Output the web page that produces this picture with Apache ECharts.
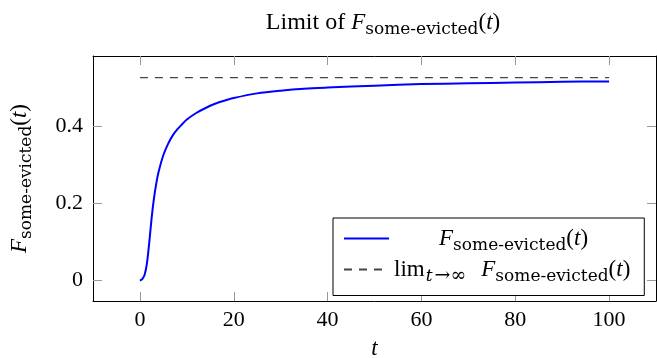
<!DOCTYPE html>
<html><head><meta charset="utf-8">
<script src="https://cdn.jsdelivr.net/npm/echarts@6/dist/echarts.min.js"></script>
<style>html,body{margin:0;padding:0;background:#fff}#c{width:657px;height:358px}</style>
</head><body><div id="c"></div>
<script>
// data
const tValues = [0, 0.5, 1, 1.5, 2, 2.5, 3, 3.5, 4, 5, 6, 7, 8, 9, 10, 12, 14, 16, 18, 20, 25, 30, 35, 40, 50, 60, 70, 80, 90, 100];
const fValues = [0, 0.004, 0.015, 0.045, 0.1, 0.163, 0.214, 0.253, 0.283, 0.326, 0.355, 0.377, 0.393, 0.406, 0.418, 0.435, 0.448, 0.459, 0.467, 0.474, 0.486, 0.493, 0.498, 0.501, 0.506, 0.51, 0.512, 0.514, 0.516, 0.517];
const limitT = [0, 100];
const limitV = [0.527, 0.527];
const xTicks = [0, 20, 40, 60, 80, 100];
const yTicks = [0, 0.2, 0.4];

const FONT = 'Liberation Serif';
const SUBFONT = 'DejaVu Serif';
const FS = 23, SFS = 17, TFS = 22;
const base = {color: '#000', fontWeight: 'normal', verticalAlign: 'middle'};
const rich = {
  it: Object.assign({}, base, {fontFamily: FONT, fontStyle: 'italic', fontSize: FS}),
  rm: Object.assign({}, base, {fontFamily: FONT, fontSize: FS}),
  tt: Object.assign({}, base, {fontFamily: FONT, fontSize: 24}),
  sub: Object.assign({}, base, {fontFamily: SUBFONT, fontSize: SFS, padding: [14, 0, 0, 0]}),
  subit: Object.assign({}, base, {fontFamily: SUBFONT, fontStyle: 'italic', fontSize: SFS, padding: [14, 1, 0, 1]}),
  subsym: Object.assign({}, base, {fontFamily: SUBFONT, fontSize: 19, padding: [13, 2, 0, 1]}),
  gap: {width: 13},
  sp: {width: 45}
};
const Fexpr = '{it|F}{sub|some-evicted}{rm|(}{it|t}{rm|)}';

const chart = echarts.init(document.getElementById('c'));
const tickStyle = {color: '#999', width: 1};
const lineStyle = {color: '#000', width: 1};
chart.setOption({
  animation: false,
  backgroundColor: '#fff',
  title: {
    text: '{tt|Limit of }' + Fexpr,
    left: 378, top: 2, textAlign: 'center',
    textStyle: {fontWeight: 'normal', rich: rich}
  },
  grid: {left: 93, right: 1, top: 56, bottom: 57, containLabel: false, outerBoundsMode: 'none'},
  legend: {
    orient: 'vertical', left: 333, top: 218,
    itemWidth: 45, itemHeight: 14, itemGap: 4,
    padding: [9, 14, 10, 10],
    borderColor: '#000', borderWidth: 1, backgroundColor: '#fff',
    itemStyle: {opacity: 0},
    data: ['F', 'lim'],
    formatter: function (n) {
      return n === 'F' ? '{sp|}' + Fexpr : '{rm|lim}{subit|t}{subsym|→∞}{gap|}' + Fexpr;
    },
    textStyle: {rich: rich}
  },
  xAxis: [{
    type: 'value', min: -10, max: 110, position: 'bottom',
    axisLine: {show: true, onZero: false, lineStyle: lineStyle},
    axisTick: {show: true, inside: true, length: 9, customValues: xTicks, lineStyle: tickStyle},
    axisLabel: {customValues: xTicks, fontFamily: FONT, fontSize: TFS, color: '#000', margin: 8},
    splitLine: {show: false},
    name: '{it|t}', nameLocation: 'middle', nameGap: 36, nameTextStyle: {rich: rich}
  }, {
    type: 'value', min: -10, max: 110, position: 'top',
    axisLine: {show: true, onZero: false, lineStyle: lineStyle},
    axisTick: {show: true, inside: true, length: 9, customValues: xTicks, lineStyle: tickStyle},
    axisLabel: {show: false}, splitLine: {show: false}
  }],
  yAxis: [{
    type: 'value', min: -0.053, max: 0.583, position: 'left',
    axisLine: {show: true, onZero: false, lineStyle: lineStyle},
    axisTick: {show: true, inside: true, length: 9, customValues: yTicks, lineStyle: tickStyle},
    axisLabel: {customValues: yTicks, fontFamily: FONT, fontSize: TFS, color: '#000', margin: 10,
      formatter: function (v) { return v === 0 ? '0' : String(Math.round(v * 10) / 10); }},
    splitLine: {show: false},
    name: Fexpr, nameLocation: 'middle', nameRotate: 90, nameGap: 58, nameTextStyle: {rich: rich}
  }, {
    type: 'value', min: -0.053, max: 0.583, position: 'right',
    axisLine: {show: true, onZero: false, lineStyle: lineStyle},
    axisTick: {show: true, inside: true, length: 9, customValues: yTicks, lineStyle: tickStyle},
    axisLabel: {show: false}, splitLine: {show: false}
  }],
  series: [{
    name: 'F', type: 'line', xAxisIndex: 0, yAxisIndex: 0,
    data: tValues.map((t, i) => [t, fValues[i]]),
    symbol: 'none', smooth: 0.3,
    lineStyle: {color: '#0000ff', width: 2}, itemStyle: {color: '#0000ff'}
  }, {
    name: 'lim', type: 'line', xAxisIndex: 0, yAxisIndex: 0,
    data: limitT.map((t, i) => [t, limitV[i]]),
    symbol: 'none',
    lineStyle: {color: '#444', width: 1.2, type: [8, 7]}, itemStyle: {color: '#000'}
  }]
});
</script></body></html>
